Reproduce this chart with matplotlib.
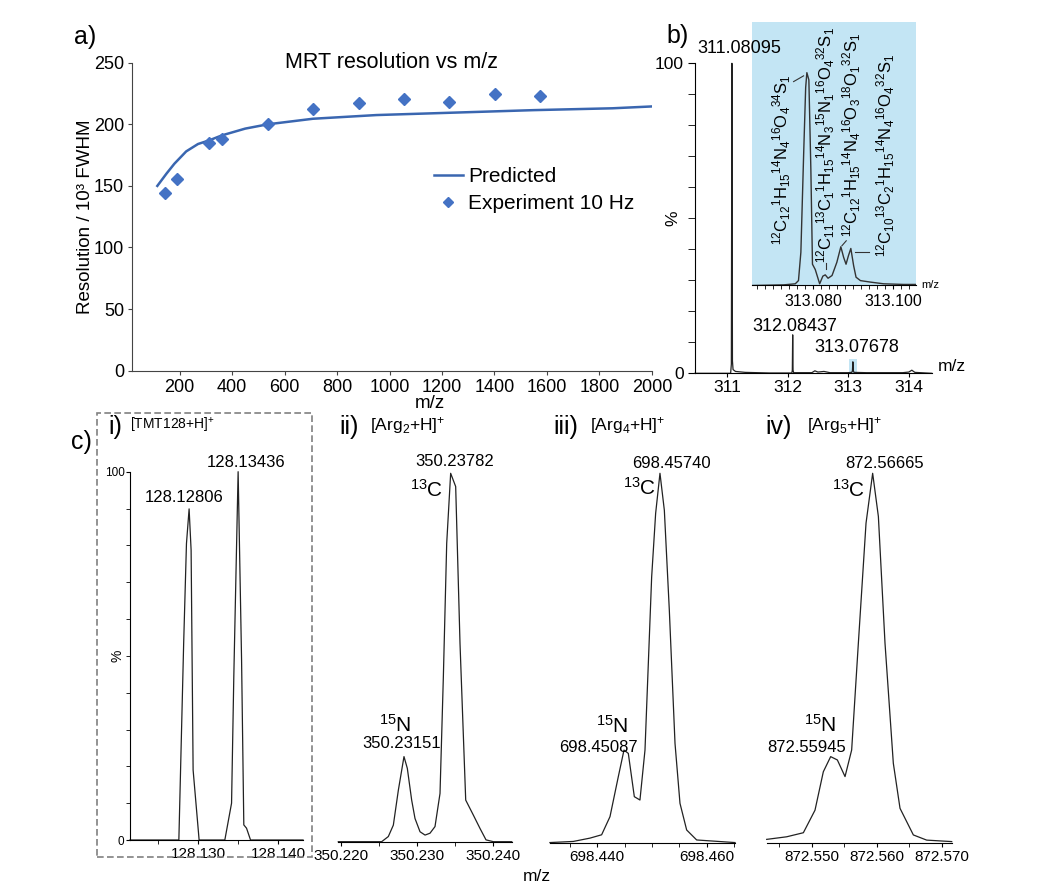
import matplotlib
matplotlib.use("Agg")

import matplotlib.pyplot as plt
from matplotlib.patches import Rectangle
from matplotlib.ticker import MultipleLocator

plt.rcParams["font.family"] = ["Liberation Sans", "DejaVu Sans"]
plt.rcParams["mathtext.fontset"] = "custom"
plt.rcParams["mathtext.rm"] = "Liberation Sans"
plt.rcParams["mathtext.it"] = "Liberation Sans:italic"
plt.rcParams["mathtext.bf"] = "Liberation Sans:bold"

W, H = 1046, 896

# ---- a) 분해능 vs m/z
a_pred_mz = [115, 150, 180, 225, 270, 313, 361, 450, 536, 708, 950, 1250, 1550, 1850, 2000]
a_pred_res = [150, 160, 168, 178, 184, 187, 191, 196.5, 200, 204.5, 207.5, 209.5, 211.5, 213, 214.5]
a_exp_mz = [143, 189, 313, 361, 536, 708, 882, 1055, 1227, 1402, 1575]
a_exp_res = [144.2, 155.3, 184.5, 188.3, 200.2, 212.1, 217.3, 220.5, 217.8, 224.6, 222.7]

# ---- b) 전체 스펙트럼
b_mz = [310.472, 311.060, 311.072, 311.081, 311.090, 311.100, 311.140, 311.300, 311.700,
        312.070, 312.078, 312.084, 312.090, 312.100, 312.400, 312.450, 312.500, 312.600,
        312.700, 313.000, 313.060, 313.070, 313.077, 313.085, 313.095, 313.300, 313.900,
        314.000, 314.050, 314.100, 314.378]
b_int = [0, 0, 3, 100, 4, 1.2, 0.6, 0.3, 0.1,
         0.1, 1, 12.4, 1, 0.2, 0.2, 0.8, 0.4, 0.6,
         0.2, 0.2, 0.3, 0.8, 3.7, 0.8, 0.3, 0.2, 0.2,
         0.4, 1, 0.3, 0]
b_peak_labels = ["311.08095", "312.08437", "313.07678"]
b_peak_label_x = [311.206, 312.122, 313.140]
b_peak_label_y = [104.8, 15.0, 8.4]
b_highlight = (313.009, 313.145, 4.6)

# ---- b) 인셋 (313.08 부근 미세구조)
in_mz = [313.0647, 313.0726, 313.0755, 313.0763, 313.0769, 313.0776, 313.0781, 313.0784,
         313.0789, 313.0794, 313.0798, 313.0805, 313.0816, 313.0824, 313.0830, 313.0837,
         313.0847, 313.0859, 313.0869, 313.0876, 313.0882, 313.0888, 313.0894, 313.0901,
         313.0907, 313.0918, 313.0943, 313.0976, 313.1026, 313.1057]
in_int = [0, 0.3, 0.8, 2.3, 15.6, 62, 93, 100,
          96.6, 54.5, 10, 7.5, 0.8, 4.4, 5, 3.4,
          4.7, 10.9, 18.2, 13.2, 10, 14, 17.4, 9.3,
          3.9, 2.3, 1.6, 0.8, 0.5, 0.5]
in_labels = [
    r"$^{12}$C$_{12}{}^{1}$H$_{15}{}^{14}$N$_{4}{}^{16}$O$_{4}{}^{34}$S$_{1}$",
    r"$^{12}$C$_{11}{}^{13}$C$_{1}{}^{1}$H$_{15}{}^{14}$N$_{3}{}^{15}$N$_{1}{}^{16}$O$_{4}{}^{32}$S$_{1}$",
    r"$^{12}$C$_{12}{}^{1}$H$_{15}{}^{14}$N$_{4}{}^{16}$O$_{3}{}^{18}$O$_{1}{}^{32}$S$_{1}$",
    r"$^{12}$C$_{10}{}^{13}$C$_{2}{}^{1}$H$_{15}{}^{14}$N$_{4}{}^{16}$O$_{4}{}^{32}$S$_{1}$",
]
in_label_x = [313.07218, 313.0830, 313.08968, 313.0980]
in_label_y = [59.2, 66.2, 70.9, 61.1]
in_lead_from = [(313.07508, 95.8), (313.08325, 10.6), (313.08718, 18.7), (313.0905, 15.6)]
in_lead_to = [(313.07758, 98.5), (313.08325, 7.6), (313.08825, 21.0), (313.09383, 15.6)]

# ---- c) 확대 스펙트럼 4개
ci_mz = [128.1215, 128.1276, 128.1282, 128.12855, 128.12888, 128.12913, 128.12938, 128.13013,
         128.13334, 128.13418, 128.13446, 128.1350, 128.13543, 128.13571, 128.13605, 128.13655,
         128.1431]
ci_int = [0, 0, 53.4, 80.5, 89.9, 78.7, 19, 0,
          0, 10, 44.3, 100, 48.9, 4.1, 3.2, 0,
          0]

cii_mz = [350.21969, 350.22539, 350.22627, 350.22693, 350.22759, 350.22833, 350.22877, 350.22934,
          350.22978, 350.23044, 350.2311, 350.23175, 350.23241, 350.23307, 350.23351, 350.23395,
          350.23447, 350.23513, 350.2357, 350.23645, 350.23746, 350.23833, 350.23912, 350.24009,
          350.2425]
cii_int = [0, 0, 1.4, 4.5, 14, 23.1, 19.9, 11.3,
           6.3, 2.7, 1.8, 2.3, 4.1, 13.1, 44.8, 81,
           100, 96.4, 53.8, 11.3, 7.2, 3.6, 0.5, 0,
           0]

ciii_mz = [698.43134, 698.43561, 698.43866, 698.44079, 698.44232, 698.44384, 698.44488, 698.44567,
           698.44677, 698.4478, 698.44872, 698.44994, 698.45067, 698.45146, 698.45226, 698.45317,
           698.45421, 698.45512, 698.45634, 698.45817, 698.46518]
ciii_int = [0.2, 0.5, 1.4, 2.3, 7.2, 18, 25.2, 24.3,
            12.6, 11.7, 25.2, 72, 89.2, 100, 90, 63,
            27, 10.8, 3.6, 0.9, 0.2]

civ_mz = [872.54308, 872.54615, 872.54872, 872.55051, 872.55179, 872.55292, 872.55395, 872.55513,
          872.55615, 872.55718, 872.55836, 872.55938, 872.56026, 872.56128, 872.56256, 872.56359,
          872.56564, 872.56769, 872.57154]
civ_int = [0.9, 1.6, 2.7, 8.8, 19.2, 23.3, 22.4, 17.9,
           25.1, 54, 86.5, 100, 88.3, 54, 21.5, 9.3,
           2.1, 0.7, 0.3]

c_numerals = ["i)", "ii)", "iii)", "iv)"]
c_ions = [r"[TMT128+H]$^{+}$", r"[Arg$_{2}$+H]$^{+}$", r"[Arg$_{4}$+H]$^{+}$", r"[Arg$_{5}$+H]$^{+}$"]
c_ion_size = [10, 12.5, 12.5, 12.5]
c_xlims = [(128.1215, 128.1431), (350.21965, 350.2425), (698.43135, 698.46518), (872.54308, 872.57154)]
c_major = [[128.130, 128.140], [350.220, 350.230, 350.240], [698.440, 698.460],
           [872.550, 872.560, 872.570]]
c_peak_text = [
    [("128.12806", 128.12821, 92.9), ("128.13436", 128.13605, 102.4)],
    [("350.23782", 350.23504, 103.1), ("350.23151", 350.22803, 26.7)],
    [("698.45740", 698.45361, 102.7), ("698.45087", 698.44018, 25.9)],
    [("872.56665", 872.56128, 102.7), ("872.55945", 872.54923, 25.8)],
]
c_iso_text = [
    [],
    [(r"$^{13}$C", 350.23132, 95.5), (r"$^{15}$N", 350.22714, 31.7)],
    [(r"$^{13}$C", 698.44781, 96.0), (r"$^{15}$N", 698.44282, 31.7)],
    [(r"$^{13}$C", 872.55563, 95.5), (r"$^{15}$N", 872.55128, 31.9)],
]

BLUE_LINE = "#3a66b0"
BLUE_PT = "#4472c4"
LIGHT_BLUE = "#c3e5f4"
INK = "#222222"


def box(x0, y0, x1, y1):
    # 픽셀 좌표(좌상단 기준) -> figure 비율
    return [x0 / W, 1 - y1 / H, (x1 - x0) / W, (y1 - y0) / H]


def ftext(x, y, s, **kw):
    fig.text(x / W, 1 - y / H, s, **kw)


fig = plt.figure(figsize=(W / 100, H / 100), dpi=100)

# ===== a)
ax_a = fig.add_axes(box(132.4, 62.7, 651.9, 370.7))
ax_a.plot(a_pred_mz, a_pred_res, color=BLUE_LINE, lw=1.8, label="Predicted")
ax_a.plot(a_exp_mz, a_exp_res, ls="none", marker="D", ms=6, color=BLUE_PT,
          label="Experiment 10 Hz")
ax_a.set_xlim(20, 2000)
ax_a.set_ylim(0, 250)
ax_a.set_xticks(range(200, 2001, 200))
ax_a.set_yticks(range(0, 251, 50))
for s in ["top", "right"]:
    ax_a.spines[s].set_visible(False)
for s in ["left", "bottom"]:
    ax_a.spines[s].set_color("#444444")
ax_a.tick_params(labelsize=13, length=3, color="#444444", pad=3)
ax_a.text(-0.091, 0.5, "Resolution / 10³ FWHM", transform=ax_a.transAxes, rotation=90,
          ha="center", va="center", fontsize=13.5)
ax_a.text(0.573, -0.105, "m/z", transform=ax_a.transAxes, ha="center", va="center", fontsize=13.5)
ax_a.text(0.498, 1.0, "MRT resolution vs m/z", transform=ax_a.transAxes, ha="center",
          va="center", fontsize=15.5)
ax_a.legend(loc="upper left", bbox_to_anchor=(0.56, 0.695), frameon=False, fontsize=15,
            handlelength=1.4, handletextpad=0.25, labelspacing=0.4, borderpad=0,
            markerscale=0.8)
ftext(85, 37, "a)", fontsize=18, ha="center", va="center")

# ===== b)
ax_b = fig.add_axes(box(695, 63.3, 931.7, 373.3))
ax_b.set_zorder(3)
ax_b.patch.set_visible(False)
ax_b.add_patch(Rectangle((b_highlight[0], 0), b_highlight[1] - b_highlight[0], b_highlight[2],
                         fc=LIGHT_BLUE, ec="none", clip_on=False, zorder=1))
ax_b.plot(b_mz, b_int, color=INK, lw=0.9, clip_on=False, zorder=2)
ax_b.set_xlim(310.472, 314.378)
ax_b.set_ylim(0, 100)
ax_b.set_xticks([311, 312, 313, 314])
ax_b.set_yticks([0, 100])
ax_b.yaxis.set_minor_locator(MultipleLocator(10))
for s in ["top", "right"]:
    ax_b.spines[s].set_visible(False)
ax_b.tick_params(axis="x", labelsize=12.5, length=3, pad=2)
ax_b.tick_params(axis="y", which="both", labelsize=12.5, length=5, pad=3)
ax_b.text(-0.093, 0.5, "%", transform=ax_b.transAxes, rotation=90, ha="center",
          va="center", fontsize=12.5)
ax_b.text(1.085, 0.021, "m/z", transform=ax_b.transAxes, ha="center", va="center", fontsize=12.5)
for lab, x, y in zip(b_peak_labels, b_peak_label_x, b_peak_label_y):
    ax_b.text(x, y, lab, ha="center", va="center", fontsize=13, clip_on=False)
ftext(678, 36, "b)", fontsize=18, ha="center", va="center")

# 인셋
ax_in = fig.add_axes(box(751.7, 22, 916, 285.5))
ax_in.set_zorder(2)
ax_in.set_facecolor(LIGHT_BLUE)
ax_in.plot(in_mz, in_int, color="#333333", lw=1.0)
ax_in.set_xlim(313.0646, 313.1057)
ax_in.set_ylim(0, 123.8)
for s in ["top", "right", "left"]:
    ax_in.spines[s].set_visible(False)
ax_in.set_yticks([])
ax_in.set_xticks([313.080, 313.100], ["313.080", "313.100"])
ax_in.xaxis.set_minor_locator(MultipleLocator(0.002))
ax_in.tick_params(axis="x", which="both", length=3, labelsize=11.5, pad=3)
ax_in.text(1.03, 0.0, "m/z", transform=ax_in.transAxes, ha="left", va="center", fontsize=8)
for lab, x, y in zip(in_labels, in_label_x, in_label_y):
    ax_in.text(x, y, lab, rotation=90, ha="center", va="center", fontsize=12)
for (x0, y0), (x1, y1) in zip(in_lead_from, in_lead_to):
    ax_in.plot([x0, x1], [y0, y1], color="#333333", lw=0.8)

# ===== c)
c_boxes = [(130, 471.7, 303, 840), (338, 473.3, 511.7, 841.7),
           (550, 473.3, 735, 843.3), (766.7, 473.3, 951.7, 842.7)]
c_data = [(ci_mz, ci_int), (cii_mz, cii_int), (ciii_mz, ciii_int), (civ_mz, civ_int)]
c_title_px = [(115, 130), (349, 370), (566, 590), (779, 806.7)]

for i, (bx, (mz, it)) in enumerate(zip(c_boxes, c_data)):
    ax = fig.add_axes(box(*bx))
    ax.plot(mz, it, color=INK, lw=0.9, clip_on=False)
    ax.set_xlim(c_xlims[i])
    ax.set_ylim(0, 100)
    ax.set_xticks(c_major[i], [f"{v:.3f}" for v in c_major[i]])
    ax.xaxis.set_minor_locator(MultipleLocator(0.005))
    ax.tick_params(axis="x", which="both", length=3, labelsize=11, pad=2)
    for s in ["top", "right"]:
        ax.spines[s].set_visible(False)
    if i == 0:
        ax.set_yticks([0, 100])
        ax.yaxis.set_minor_locator(MultipleLocator(10))
        ax.tick_params(axis="y", which="both", length=3, labelsize=8.5, pad=1)
        ax.text(-0.07, 0.5, "%", transform=ax.transAxes, rotation=90, ha="center",
                va="center", fontsize=10)
    else:
        ax.spines["left"].set_visible(False)
        ax.set_yticks([])
    for lab, x, y in c_peak_text[i]:
        ax.text(x, y, lab, ha="center", va="center", fontsize=12, clip_on=False)
    for lab, x, y in c_iso_text[i]:
        ax.text(x, y, lab, ha="center", va="center", fontsize=15, clip_on=False)
    nx, bx_left = c_title_px[i]
    ftext(nx, 427, c_numerals[i], fontsize=18, ha="center", va="center")
    ftext(bx_left, 425, c_ions[i], fontsize=c_ion_size[i], ha="left", va="center")

ftext(81.7, 441.7, "c)", fontsize=18, ha="center", va="center")
ftext(537, 876, "m/z", fontsize=12.5, ha="center", va="center")

fig.add_artist(Rectangle((96.7 / W, 1 - 856.7 / H), (311.7 - 96.7) / W, (856.7 - 413.3) / H,
                         transform=fig.transFigure, fill=False, ec="#808080", lw=1.2,
                         ls=(0, (4, 2))))

fig.savefig("out.png", dpi=100)
